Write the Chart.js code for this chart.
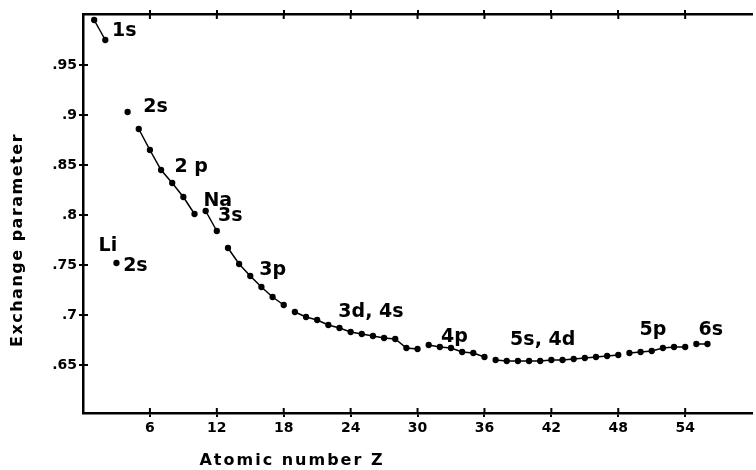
<!DOCTYPE html>
<html>
<head>
<meta charset="utf-8">
<script src="https://cdn.jsdelivr.net/npm/chart.js@4.4.1/dist/chart.umd.min.js"></script>
<style>
  html, body { margin: 0; padding: 0; background: #fff; }
</style>
</head>
<body>
<canvas id="exchangeChart" width="756" height="470"></canvas>
<script>
// atomic number Z and exchange parameter, one pair per shell segment
const z1s = [1, 2];
const alpha1s = [0.995, 0.975];
const zLi = [3];
const alphaLi = [0.752];
const zBe = [4];
const alphaBe = [0.903];
const z2p = [5, 6, 7, 8, 9, 10];
const alpha2p = [0.886, 0.865, 0.845, 0.832, 0.818, 0.801];
const z3s = [11, 12];
const alpha3s = [0.804, 0.784];
const z3p = [13, 14, 15, 16, 17, 18];
const alpha3p = [0.767, 0.751, 0.739, 0.728, 0.718, 0.710];
const z3d = [19, 20, 21, 22, 23, 24, 25, 26, 27, 28, 29, 30];
const alpha3d = [0.703, 0.698, 0.695, 0.690, 0.687, 0.683, 0.681, 0.679, 0.677, 0.676, 0.667, 0.666];
const z4p = [31, 32, 33, 34, 35, 36];
const alpha4p = [0.670, 0.668, 0.667, 0.663, 0.662, 0.658];
const z5s = [37, 38, 39, 40, 41, 42, 43, 44, 45, 46, 47, 48];
const alpha5s = [0.655, 0.654, 0.654, 0.654, 0.654, 0.655, 0.655, 0.656, 0.657, 0.658, 0.659, 0.660];
const z5p = [49, 50, 51, 52, 53, 54];
const alpha5p = [0.662, 0.663, 0.664, 0.667, 0.668, 0.668];
const z6s = [55, 56];
const alpha6s = [0.671, 0.671];

const xTicks = [6, 12, 18, 24, 30, 36, 42, 48, 54];
const yTicks = [0.65, 0.7, 0.75, 0.8, 0.85, 0.9, 0.95];

// shell names, placed in data units
const shellLabels = [
    { text: '1s', z: 2.6, a: 0.984 },
    { text: '2s', z: 5.4, a: 0.908 },
    { text: '2 p', z: 8.2, a: 0.848 },
    { text: 'Na', z: 10.8, a: 0.814 },
    { text: '3s', z: 12.1, a: 0.799 },
    { text: 'Li', z: 1.4, a: 0.769 },
    { text: '2s', z: 3.6, a: 0.749 },
    { text: '3p', z: 15.8, a: 0.745 },
    { text: '3d, 4s', z: 22.9, a: 0.703 },
    { text: '4p', z: 32.1, a: 0.678 },
    { text: '5s, 4d', z: 38.3, a: 0.675 },
    { text: '5p', z: 49.9, a: 0.685 },
    { text: '6s', z: 55.2, a: 0.685 }
];

const segments = [
    [z1s, alpha1s], [zLi, alphaLi], [zBe, alphaBe], [z2p, alpha2p],
    [z3s, alpha3s], [z3p, alpha3p], [z3d, alpha3d], [z4p, alpha4p],
    [z5s, alpha5s], [z5p, alpha5p], [z6s, alpha6s]
];

const fontFamily = "'DejaVu Sans', 'Liberation Sans', sans-serif";

function toPoints(zs, values) {
    return zs.map((z, i) => ({ x: z, y: values[i] }));
}

function formatTick(v) {
    return String(+v.toFixed(2)).replace(/^0/, '');
}

// tick marks cross the axis, draw the inner half
const innerTicks = {
    id: 'innerTicks',
    afterDraw(chart) {
        const { ctx, chartArea, scales } = chart;
        ctx.save();
        ctx.strokeStyle = '#000';
        ctx.lineWidth = 2;
        ctx.beginPath();
        for (const t of scales.x.ticks) {
            const px = scales.x.getPixelForValue(t.value);
            ctx.moveTo(px, chartArea.bottom);
            ctx.lineTo(px, chartArea.bottom - 5);
            ctx.moveTo(px, chartArea.top);
            ctx.lineTo(px, chartArea.top + 5);
        }
        for (const t of scales.y.ticks) {
            const py = scales.y.getPixelForValue(t.value);
            ctx.moveTo(chartArea.left, py);
            ctx.lineTo(chartArea.left + 5, py);
        }
        ctx.stroke();
        ctx.restore();
    }
};

const textLayer = {
    id: 'textLayer',
    afterDraw(chart) {
        const { ctx, scales } = chart;
        ctx.save();
        ctx.fillStyle = '#000';
        ctx.textBaseline = 'middle';
        ctx.textAlign = 'left';
        ctx.font = 'bold 19px ' + fontFamily;
        for (const l of shellLabels) {
            ctx.fillText(l.text, scales.x.getPixelForValue(l.z), scales.y.getPixelForValue(l.a));
        }

        ctx.font = 'bold 16px ' + fontFamily;
        ctx.letterSpacing = '2px';
        ctx.textAlign = 'center';
        ctx.fillText('Atomic number Z', 292, 461);
        ctx.translate(18, 240);
        ctx.rotate(-Math.PI / 2);
        ctx.letterSpacing = '1.5px';
        ctx.fillText('Exchange parameter', 0, 0);
        ctx.restore();
    }
};

const axisGrid = { drawOnChartArea: false, tickLength: 4, color: '#000', lineWidth: 2 };
const axisBorder = { color: '#000', width: 2.5 };

new Chart(document.getElementById('exchangeChart'), {
    type: 'scatter',
    data: {
        datasets: segments.map(s => ({
            data: toPoints(s[0], s[1]),
            showLine: true,
            borderColor: '#000',
            backgroundColor: '#000',
            borderWidth: 1.5,
            pointRadius: 2.4,
            pointHoverRadius: 2.4
        }))
    },
    options: {
        responsive: false,
        animation: false,
        layout: { padding: { right: 1 } },
        plugins: {
            legend: { display: false },
            tooltip: { enabled: false }
        },
        scales: {
            x: {
                type: 'linear',
                position: 'bottom',
                min: 0,
                max: 60,
                afterBuildTicks: s => { s.ticks = xTicks.map(v => ({ value: v })); },
                afterFit: s => { s.height = 57; },
                grid: axisGrid,
                border: axisBorder,
                ticks: { color: '#000', padding: 3, maxRotation: 0, font: { family: fontFamily, size: 14, weight: 'bold' } }
            },
            xTop: {
                type: 'linear',
                position: 'top',
                min: 0,
                max: 60,
                afterBuildTicks: s => { s.ticks = xTicks.map(v => ({ value: v })); },
                afterFit: s => { s.height = 14; },
                grid: axisGrid,
                border: axisBorder,
                ticks: { display: false }
            },
            y: {
                min: 0.602,
                max: 1.001,
                afterBuildTicks: s => { s.ticks = yTicks.map(v => ({ value: v })); },
                afterFit: s => { s.width = 83; },
                grid: axisGrid,
                border: axisBorder,
                ticks: { color: '#000', padding: 2, callback: formatTick, font: { family: fontFamily, size: 14, weight: 'bold' } }
            }
        }
    },
    plugins: [innerTicks, textLayer]
});
</script>
</body>
</html>
